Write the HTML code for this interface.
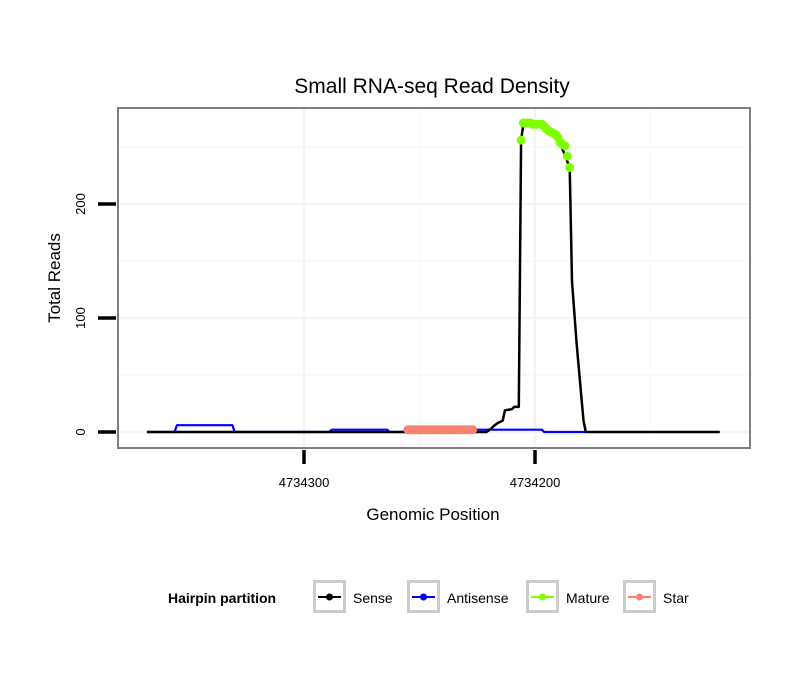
<!DOCTYPE html>
<html><head><meta charset="utf-8">
<style>
body{margin:0;background:#fff;}
svg{display:block;font-family:"Liberation Sans",Arial,sans-serif;}
</style></head>
<body>
<svg id="chart" width="810" height="690" viewBox="0 0 810 690">
  <rect x="0" y="0" width="810" height="690" fill="#fff"/>
  <text x="432" y="93" font-size="21" text-anchor="middle" fill="#000">Small RNA-seq Read Density</text>
  <g id="grid"></g>
  <g id="series"></g>
  <rect x="118" y="108" width="632" height="340" fill="none" stroke="#7f7f7f" stroke-width="2"/>
  <g id="axes"></g>
  <text x="433" y="520" font-size="17" text-anchor="middle">Genomic Position</text>
  <text transform="translate(60,278) rotate(-90)" font-size="17" text-anchor="middle">Total Reads</text>
  <g id="legend">
    <text x="168" y="603" font-size="14" font-weight="bold">Hairpin partition</text>
  </g>
</svg>
<script>
const senseX = [4734368,4734221,4734219,4734218,4734216,4734214,4734213,4734210,4734209,4734207,4734206,4734205,4734197,4734196,4734190,4734185,4734184,4734182,4734181,4734179,4734178,4734120];
const senseY = [0,0,3,5,8,10,19,20,22,22,256,271,270,268,258,232,132,78,55,10,0,0];
const antiX = [4734368,4734356,4734355,4734331,4734330,4734289,4734288,4734264,4734263,4734256,4734255,4734197,4734196,4734178];
const antiY = [0,0,6,6,0,0,2,2,0,0,2,2,0,0];
const matureX = [4734206,4734205,4734204,4734203,4734202,4734201,4734200,4734199,4734198,4734197,4734196,4734195,4734194,4734193,4734192,4734191,4734190,4734189,4734188,4734187,4734186,4734185];
const matureY = [256,271,271,271,271,270,270,270,270,270,268,266,264,263,262,261,258,254,252,251,242,232];
const starX = [4734255,4734254,4734253,4734252,4734251,4734250,4734249,4734248,4734247,4734246,4734245,4734244,4734243,4734242,4734241,4734240,4734239,4734238,4734237,4734236,4734235,4734234,4734233,4734232,4734231,4734230,4734229,4734228,4734227];
const starY = [2,2,2,2,2,2,2,2,2,2,2,2,2,2,2,2,2,2,2,2,2,2,2,2,2,2,2,2,2];
const xTicks = [4734300,4734200];
const xMinor = [4734250,4734150];
const yTicks = [0,100,200];
const yMinor = [50,150,250];
const legendLabels = ["Sense","Antisense","Mature","Star"];
const legendColors = ["#000000","#0000ff","#7fff00","#fa8072"];

const NS="http://www.w3.org/2000/svg";
function sx(p){return 304+(4734300-p)*2.31;}
function sy(v){return 432-v*1.14;}
function mk(tag,attrs,parent){const e=document.createElementNS(NS,tag);for(const k in attrs)e.setAttribute(k,attrs[k]);parent.appendChild(e);return e;}
const grid=document.getElementById('grid'),series=document.getElementById('series'),axes=document.getElementById('axes'),legend=document.getElementById('legend');

yMinor.forEach(v=>{const l=mk('line',{x1:118,x2:750,y1:sy(v),y2:sy(v),stroke:'#f9f9f9','stroke-width':1.5},grid);

});
yTicks.forEach(v=>{const l=mk('line',{x1:118,x2:750,y1:sy(v),y2:sy(v),stroke:'#f4f4f4','stroke-width':2.5},grid);

});
xMinor.forEach(p=>{const l=mk('line',{x1:sx(p),x2:sx(p),y1:108,y2:448,stroke:'#f9f9f9','stroke-width':1.5},grid);

});
xTicks.forEach(p=>{const l=mk('line',{x1:sx(p),x2:sx(p),y1:108,y2:448,stroke:'#f4f4f4','stroke-width':2.5},grid);

});

function pts(xs,ys){return xs.map((x,i)=>sx(x).toFixed(1)+','+sy(ys[i]).toFixed(1)).join(' ');}
const anti=mk('polyline',{points:pts(antiX,antiY),fill:'none',stroke:'#0000ff','stroke-width':2.2,'stroke-linejoin':'round'},series);


const sense=mk('polyline',{points:pts(senseX,senseY),fill:'none',stroke:'#000','stroke-width':2.5,'stroke-linejoin':'round'},series);


starX.forEach((p,i)=>{const c=mk('circle',{cx:sx(p),cy:sy(starY[i]),r:4.5,fill:'#fa8072'},series);

});
matureX.forEach((p,i)=>{const c=mk('circle',{cx:sx(p),cy:sy(matureY[i]),r:4.5,fill:'#7fff00'},series);

});

yTicks.forEach(v=>{const t=mk('line',{x1:98,x2:116,y1:sy(v),y2:sy(v),stroke:'#000','stroke-width':3.5},axes);


const lb=mk('text',{transform:`translate(${85},${sy(v)}) rotate(-90)`,'font-size':13,'text-anchor':'middle'},axes);
lb.textContent=v;

});
xTicks.forEach(p=>{const t=mk('line',{x1:sx(p),x2:sx(p),y1:450,y2:464,stroke:'#000','stroke-width':3.5},axes);


const lb=mk('text',{x:sx(p),y:487,'font-size':13,'text-anchor':'middle'},axes);
lb.textContent=p;

});

const boxX=[313,407,526,623];
legendLabels.forEach((lab,i)=>{const g=mk('g',{},legend);


const x=boxX[i];
mk('rect',{x:x+1.5,y:581.5,width:30,height:30,fill:'#fff',stroke:'#cccccc','stroke-width':3},g);
mk('line',{x1:x+5,x2:x+28,y1:597,y2:597,stroke:legendColors[i],'stroke-width':2},g);
mk('circle',{cx:x+16.5,cy:597,r:3.5,fill:legendColors[i]},g);
const t=mk('text',{x:x+40,y:603,'font-size':14},g);t.textContent=lab;});
</script>
</body></html>
